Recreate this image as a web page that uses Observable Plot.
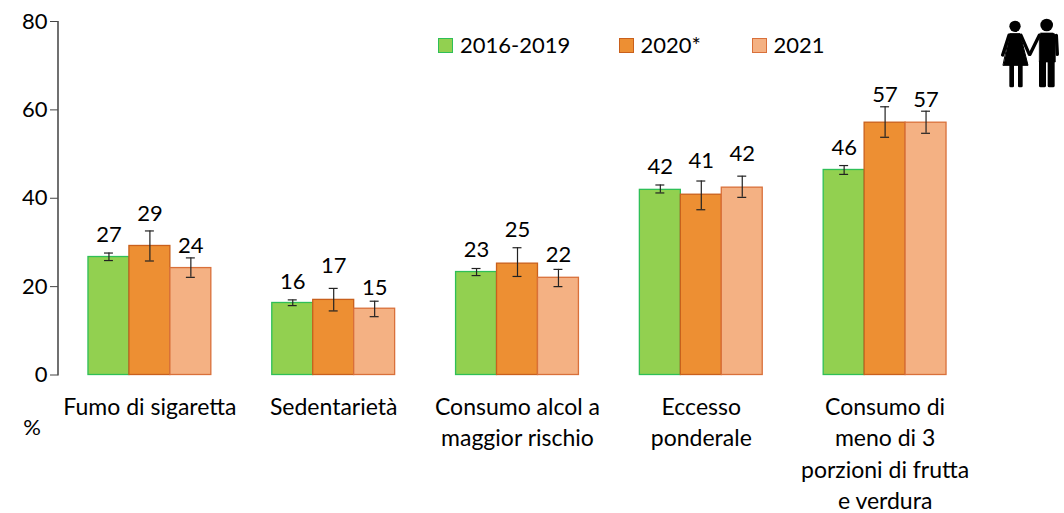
<!DOCTYPE html>
<html>
<head>
<meta charset="utf-8">
<script src="https://cdn.jsdelivr.net/npm/d3@7"></script>
<script src="https://cdn.jsdelivr.net/npm/@observablehq/plot@0.6"></script>
<style>
  html, body { margin: 0; padding: 0; background: #fff; }
  #wrap { position: relative; width: 1064px; height: 513px; overflow: hidden; font-family: Lato, sans-serif; color: #000; }
  #wrap > svg.chart, #wrap figure { margin: 0; }
  .lg { position: absolute; top: 31px; font-size: 22px; line-height: 28px; display: flex; align-items: center; white-space: nowrap; }
  .lg i { display: block; width: 13px; height: 13px; border-width: 1.4px; border-style: solid; margin-right: 7px; }
  #icon { position: absolute; left: 980px; top: 0; }
</style>
</head>
<body>
<div id="wrap"></div>
<script>
const categories = ["Fumo di sigaretta", "Sedentarietà", "Consumo alcol a\nmaggior rischio", "Eccesso\nponderale", "Consumo di\nmeno di 3\nporzioni di frutta\ne verdura"];
const periods = ["2016-2019", "2020*", "2021"];
const values2016 = [26.7, 16.3, 23.3, 41.9, 46.4];
const values2020 = [29.2, 17.0, 25.2, 40.8, 57.1];
const values2021 = [24.2, 15.0, 22.0, 42.4, 57.1];
const low2016 = [25.9, 15.7, 22.5, 41.2, 45.4];
const high2016 = [27.6, 17.0, 24.1, 43.0, 47.4];
const low2020 = [25.8, 14.5, 22.3, 37.4, 53.8];
const high2020 = [32.6, 19.6, 28.8, 43.9, 60.7];
const low2021 = [22.1, 13.2, 20.0, 40.2, 54.7];
const high2021 = [26.5, 16.7, 23.9, 45.0, 59.7];
const labels2016 = ["27", "16", "23", "42", "46"];
const labels2020 = ["29", "17", "25", "41", "57"];
const labels2021 = ["24", "15", "22", "42", "57"];
const yTicks = [0, 20, 40, 60, 80];

const fills = ["#92d050", "#ed8f33", "#f4b183"];
const strokes = ["#2fbf57", "#c9601c", "#d9703a"];
// label lift above the upper whisker, in value units
const lift = [[4.2,4.1,4.3,4.1,3.9],[3.9,5.0,4.1,4.5,2.7],[2.7,3.0,3.2,5.0,2.5]];

const vals = [values2016, values2020, values2021], lows = [low2016, low2020, low2021],
      highs = [high2016, high2020, high2021], labs = [labels2016, labels2020, labels2021];
const rows = periods.flatMap((p, s) => categories.map((c, i) => ({
  category: c, period: p, value: vals[s][i], low: lows[s][i], high: highs[s][i],
  label: labs[s][i], labelY: highs[s][i] + lift[s][i]
})));

const FS = 22;
const CAT_FS = 23;
const chart = Plot.plot({
  width: 1064, height: 513,
  marginLeft: 57.5, marginRight: 87.5, marginTop: 21, marginBottom: 138.5,
  style: { fontFamily: "Lato, sans-serif", background: "transparent", color: "#000", overflow: "visible" },
  fx: { domain: categories, padding: 0, round: false, axis: null, label: null },
  x: { domain: periods, paddingInner: 0, paddingOuter: 0.744, round: false, axis: null, label: null },
  y: { domain: [0, 80], axis: null, label: null },
  color: { domain: periods, range: fills },
  marks: [
    Plot.barY(rows, { fx: "category", x: "period", y: "value", fill: "period",
      stroke: d => strokes[periods.indexOf(d.period)], strokeWidth: 1.3, inset: 0 }),
    Plot.ruleX(rows, { fx: "category", x: "period", y1: "low", y2: "high", stroke: "#222", strokeWidth: 1.2 }),
    Plot.tickY(rows, { fx: "category", x: "period", y: "low", stroke: "#222", strokeWidth: 1.2, insetLeft: 16, insetRight: 16 }),
    Plot.tickY(rows, { fx: "category", x: "period", y: "high", stroke: "#222", strokeWidth: 1.2, insetLeft: 16, insetRight: 16 }),
    Plot.text(rows, { fx: "category", x: "period", y: "labelY", text: "label", fontSize: FS, fill: "#000" }),
    Plot.axisFx({ anchor: "bottom", tickSize: 0, tickPadding: 18, label: null, fontSize: CAT_FS, lineHeight: 31.2 / CAT_FS, lineAnchor: "top", fill: "#000", textOverflow: null, style: { letterSpacing: "1px" } }),
    Plot.axisY({ ticks: yTicks, tickSize: 7.5, tickPadding: 3, label: null, fontSize: FS, stroke: "#444", fill: "#000" }),
    Plot.frame({ facet: "super", anchor: "left", stroke: "#111", strokeWidth: 1.2 }),
    Plot.text(["%"], { facet: "super", frameAnchor: "bottom-left", dx: -26, dy: 60, fontSize: FS, textAnchor: "middle", fill: "#000" })
  ]
});
chart.classList.add("chart");
const wrap = document.getElementById("wrap");
wrap.appendChild(chart);

const lgX = [438, 618.5, 751.5];
periods.forEach((p, i) => {
  const el = document.createElement("div");
  el.className = "lg";
  el.style.left = lgX[i] + "px";
  el.innerHTML = `<i style="background:${fills[i]};border-color:${strokes[i]}"></i><span>${p}</span>`;
  wrap.appendChild(el);
});

wrap.insertAdjacentHTML("beforeend", `
<svg id="icon" width="84" height="100" viewBox="0 0 252 300">
  <g fill="#000" stroke="#000" stroke-linecap="round" stroke-linejoin="round">
    <circle cx="105" cy="79" r="17" stroke="none"/>
    <circle cx="200" cy="75" r="19" stroke="none"/>
    <path d="M90 101 H120 L144 196 H70 Z" stroke-width="3"/>
    <path d="M87 106 L68 165 M123 106 L148 163" fill="none" stroke-width="10"/>
    <rect x="88" y="190" width="14" height="72" rx="4" stroke="none"/>
    <rect x="114" y="190" width="14" height="72" rx="4" stroke="none"/>
    <path d="M182 99 H218 Q226 99 226 110 V186 H178 V110 Z" stroke-width="2"/>
    <path d="M178 106 L150 163 M229 106 L232 163" fill="none" stroke-width="10"/>
    <rect x="177" y="180" width="21" height="82" rx="5" stroke="none"/>
    <rect x="203" y="180" width="21" height="82" rx="5" stroke="none"/>
  </g>
</svg>`);
</script>
</body>
</html>
